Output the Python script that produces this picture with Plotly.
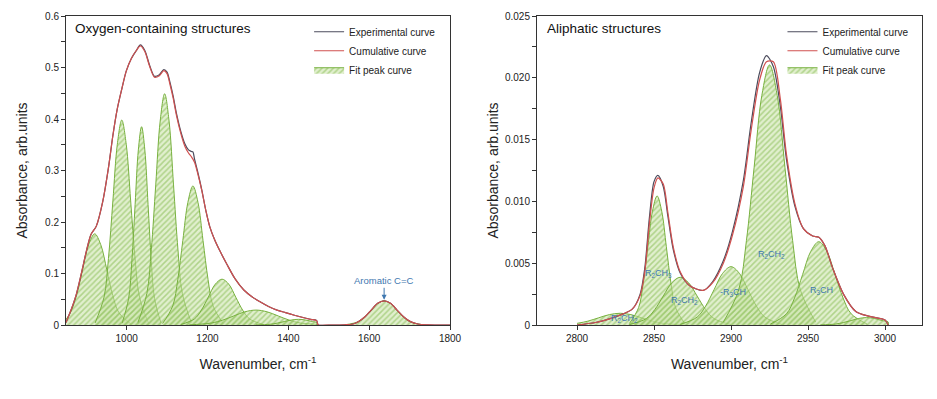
import plotly.graph_objects as go

# ---------------- Left panel: oxygen-containing structures ----------------
ox_x = [850, 862, 875, 888, 900, 912, 925, 941, 955, 966, 977, 988, 999, 1012, 1024, 1034,
        1045, 1057, 1069, 1081, 1092, 1100, 1107, 1115, 1123, 1134, 1144, 1153, 1160, 1164,
        1168, 1175, 1186, 1196, 1206, 1218, 1230, 1248, 1268, 1290, 1310, 1330, 1351, 1372,
        1393, 1415, 1434, 1455, 1470, 1474, 1500, 1540, 1560, 1573, 1589, 1605, 1621, 1637,
        1653, 1669, 1685, 1701, 1720, 1745, 1775, 1800]
ox_exp_y = [0.005, 0.028, 0.058, 0.100, 0.142, 0.176, 0.192, 0.240, 0.305, 0.368, 0.420, 0.458,
            0.493, 0.518, 0.533, 0.544, 0.533, 0.504, 0.483, 0.486, 0.496, 0.491, 0.472, 0.445,
            0.412, 0.376, 0.352, 0.340, 0.337, 0.336, 0.322, 0.300, 0.262, 0.222, 0.190, 0.165,
            0.145, 0.118, 0.090, 0.068, 0.055, 0.045, 0.036, 0.029, 0.024, 0.019, 0.015, 0.011,
            0.009, 0.0, 0.0, 0.0005, 0.002, 0.0065, 0.0155, 0.029, 0.042, 0.047, 0.042, 0.029,
            0.016, 0.007, 0.002, 0.0004, 0.0, 0.0]
ox_cum_y = [0.005, 0.028, 0.058, 0.100, 0.142, 0.176, 0.192, 0.240, 0.305, 0.368, 0.420, 0.458,
            0.493, 0.518, 0.533, 0.542, 0.531, 0.502, 0.481, 0.484, 0.494, 0.488, 0.468, 0.441,
            0.408, 0.372, 0.347, 0.334, 0.327, 0.322, 0.316, 0.297, 0.261, 0.222, 0.190, 0.165,
            0.145, 0.118, 0.090, 0.068, 0.055, 0.045, 0.036, 0.029, 0.024, 0.019, 0.015, 0.011,
            0.0085, 0.0, 0.0, 0.0005, 0.002, 0.0065, 0.0155, 0.029, 0.042, 0.047, 0.042, 0.029,
            0.016, 0.007, 0.002, 0.0004, 0.0, 0.0]

ox_p1_x = [850, 861, 876, 891, 906, 921, 936, 951, 966, 981, 1011]
ox_p1_y = [0.011, 0.024, 0.057, 0.107, 0.156, 0.177, 0.156, 0.107, 0.057, 0.024, 0.002]
ox_p2_x = [922, 944, 955, 966, 977, 988, 999, 1010, 1021, 1032, 1054]
ox_p2_y = [0.004, 0.054, 0.129, 0.241, 0.351, 0.398, 0.351, 0.241, 0.129, 0.054, 0.004]
ox_p3_x = [989, 1005, 1013, 1021, 1029, 1037, 1045, 1053, 1061, 1069, 1085]
ox_p3_y = [0.004, 0.052, 0.125, 0.234, 0.340, 0.385, 0.340, 0.234, 0.125, 0.052, 0.004]
ox_p4_x = [1028, 1050, 1061, 1072, 1083, 1094, 1105, 1116, 1127, 1138, 1160]
ox_p4_y = [0.005, 0.061, 0.146, 0.272, 0.396, 0.449, 0.396, 0.272, 0.146, 0.061, 0.005]
ox_p5_x = [1089, 1114, 1126.5, 1139, 1151.5, 1164, 1176.5, 1189, 1201.5, 1214, 1239]
ox_p5_y = [0.003, 0.037, 0.088, 0.164, 0.238, 0.270, 0.238, 0.164, 0.088, 0.037, 0.003]
ox_p6_x = [1134, 1168, 1185, 1202, 1219, 1236, 1253, 1270, 1287, 1304, 1338]
ox_p6_y = [0.001, 0.012, 0.029, 0.054, 0.079, 0.089, 0.079, 0.054, 0.029, 0.012, 0.001]
ox_p7_x = [1155, 1210, 1237.5, 1265, 1292.5, 1320, 1347.5, 1375, 1402.5, 1430, 1470, 1470.1]
ox_p7_y = [0.0003, 0.0039, 0.0094, 0.0176, 0.0256, 0.029, 0.0256, 0.0176, 0.0094, 0.0039, 0.0007, 0.0]
ox_p8_x = [1320, 1355, 1372.5, 1390, 1407.5, 1425, 1442.5, 1460, 1470, 1470.1]
ox_p8_y = [0.0001, 0.0015, 0.0036, 0.0067, 0.0097, 0.011, 0.0097, 0.0067, 0.0048, 0.0]
ox_p9_x = [1541, 1573, 1589, 1605, 1621, 1637, 1653, 1669, 1685, 1701, 1733]
ox_p9_y = [0.0005, 0.0064, 0.0153, 0.0285, 0.0415, 0.047, 0.0415, 0.0285, 0.0153, 0.0064, 0.0005]

# ---------------- Right panel: aliphatic structures ----------------
al_x = [2800, 2812, 2821, 2830, 2836, 2841, 2844, 2847, 2850, 2852.5, 2856, 2859, 2862.5, 2867,
        2873, 2882, 2888, 2895, 2901, 2908, 2913, 2918.5, 2923, 2927.5, 2932, 2936, 2941.5,
        2947, 2953, 2957, 2961, 2966, 2973, 2981, 2990, 3000, 3002]
al_exp_y = [0.0, 0.0002, 0.0005, 0.0009, 0.0013, 0.0025, 0.0046, 0.0087, 0.0116, 0.0121, 0.0112,
            0.0088, 0.0061, 0.0042, 0.0032, 0.0028, 0.0035, 0.0052, 0.0076, 0.0117, 0.0163,
            0.0204, 0.0218, 0.0209, 0.0177, 0.0134, 0.0096, 0.0078, 0.0072, 0.0071, 0.0064,
            0.0046, 0.0025, 0.0011, 0.0007, 0.0004, 0.0]
al_cum_y = [0.0, 0.0002, 0.0005, 0.0009, 0.0013, 0.0024, 0.0043, 0.0082, 0.0111, 0.0119, 0.0114,
            0.0091, 0.0063, 0.0043, 0.0032, 0.0028, 0.0034, 0.0050, 0.0073, 0.0112, 0.0157,
            0.0198, 0.0213, 0.0213, 0.0183, 0.0138, 0.0098, 0.0078, 0.0072, 0.0071, 0.0064,
            0.0046, 0.0025, 0.0011, 0.0007, 0.0004, 0.0]

al_q1_x = [2800, 2807, 2814, 2821, 2828, 2835, 2842, 2849, 2856, 2870]
al_q1_y = [0.00013, 0.00031, 0.00058, 0.00084, 0.00095, 0.00084, 0.00058, 0.00031, 0.00013, 0.00001]
al_q2_x = [2834, 2840, 2843, 2846, 2849, 2852, 2855, 2858, 2861, 2864, 2870]
al_q2_y = [0.00012, 0.00141, 0.00339, 0.00633, 0.00921, 0.01044, 0.00921, 0.00633, 0.00339, 0.00141, 0.00012]
al_q3_x = [2834, 2845, 2850.5, 2856, 2861.5, 2867, 2872.5, 2878, 2883.5, 2889, 2900]
al_q3_y = [0.00004, 0.00052, 0.00125, 0.00234, 0.00341, 0.00386, 0.00341, 0.00234, 0.00125, 0.00052, 0.00004]
al_q4_x = [2867, 2878, 2883.5, 2889, 2894.5, 2900, 2905.5, 2911, 2916.5, 2922, 2933]
al_q4_y = [0.00005, 0.00064, 0.00153, 0.00286, 0.00417, 0.00472, 0.00417, 0.00286, 0.00153, 0.00064, 0.00005]
al_q5_x = [2895, 2905, 2910, 2915, 2920, 2925, 2930, 2935, 2940, 2945, 2955]
al_q5_y = [0.00023, 0.00285, 0.00683, 0.01276, 0.01857, 0.02104, 0.01857, 0.01276, 0.00683, 0.00285, 0.00023]
al_q6_x = [2925.5, 2936, 2941.25, 2946.5, 2951.75, 2957, 2962.25, 2967.5, 2972.75, 2978, 2988.5]
al_q6_y = [0.00007, 0.00091, 0.00219, 0.00409, 0.00595, 0.00674, 0.00595, 0.00409, 0.00219, 0.00091, 0.00007]
al_q7_x = [2958, 2968, 2973, 2978, 2983, 2988, 2993, 2998, 3002, 3002.1]
al_q7_y = [0.00001, 0.00008, 0.0002, 0.00036, 0.00053, 0.0006, 0.00053, 0.00036, 0.00025, 0.0]

al_label_text = ["R<sub>2</sub>CH<sub>2</sub>", "R<sub>2</sub>CH<sub>3</sub>", "R<sub>2</sub>CH<sub>2</sub>",
                 "-R<sub>3</sub>CH", "R<sub>2</sub>CH<sub>2</sub>", "R<sub>3</sub>CH"]
al_label_x = [2831, 2853, 2870, 2901, 2926, 2959]
al_label_y = [0.0005, 0.0042, 0.0020, 0.0026, 0.0057, 0.0028]

ox_x_ticks = [1000, 1200, 1400, 1600, 1800]
al_x_ticks = [2800, 2850, 2900, 2950, 3000]
al_y_ticks = [0, 0.005, 0.010, 0.015, 0.020, 0.025]
al_y_ticktext = ["0", "0.005", "0.010", "0.015", "0.020", "0.025"]

# ---------------- styles ----------------
FONT = "Liberation Sans, Arial, sans-serif"
EXP_COLOR = "#4b4b5c"
CUM_COLOR = "#d0504f"
PEAK_LINE = "#78b13f"
PATTERN = dict(shape="/", fgcolor="#7fb848", bgcolor="rgba(200,226,165,0.55)", size=4, solidity=0.38)
LABEL_BLUE = "#3f78b0"

fig = go.Figure()

ox_peaks = [(ox_p1_x, ox_p1_y), (ox_p2_x, ox_p2_y), (ox_p3_x, ox_p3_y), (ox_p4_x, ox_p4_y),
            (ox_p5_x, ox_p5_y), (ox_p6_x, ox_p6_y), (ox_p7_x, ox_p7_y), (ox_p8_x, ox_p8_y),
            (ox_p9_x, ox_p9_y)]
al_peaks = [(al_q1_x, al_q1_y), (al_q2_x, al_q2_y), (al_q3_x, al_q3_y), (al_q4_x, al_q4_y),
            (al_q5_x, al_q5_y), (al_q6_x, al_q6_y), (al_q7_x, al_q7_y)]


def add_panel(peaks, x, exp_y, cum_y, xa, ya, legend):
    for i, (px, py) in enumerate(peaks):
        fig.add_trace(go.Scatter(
            x=px, y=py, mode="lines", line=dict(color=PEAK_LINE, width=1, shape="spline", smoothing=1),
            fill="tozeroy", fillcolor=PATTERN["bgcolor"], fillpattern=PATTERN,
            name="Fit peak curve", legendgroup="fit" + legend, showlegend=(i == 0),
            legend=legend, legendrank=3, xaxis=xa, yaxis=ya, hoverinfo="skip"))
    fig.add_trace(go.Scatter(
        x=x, y=exp_y, mode="lines", line=dict(color=EXP_COLOR, width=1.2, shape="spline", smoothing=0.8),
        name="Experimental curve", legend=legend, legendrank=1, xaxis=xa, yaxis=ya))
    fig.add_trace(go.Scatter(
        x=x, y=cum_y, mode="lines", line=dict(color=CUM_COLOR, width=1.2, shape="spline", smoothing=0.8),
        name="Cumulative curve", legend=legend, legendrank=2, xaxis=xa, yaxis=ya))


add_panel(ox_peaks, ox_x, ox_exp_y, ox_cum_y, "x", "y", "legend")
add_panel(al_peaks, al_x, al_exp_y, al_cum_y, "x2", "y2", "legend2")

axis_common = dict(showline=True, linecolor="#333333", linewidth=1, mirror=True, showgrid=False,
                   zeroline=False, ticks="outside", ticklen=4, tickcolor="#333333",
                   tickfont=dict(size=10, color="#222222", family=FONT))

# the page body has an 8 px margin, so the figure is sized to end at the window edge
fig.update_layout(
    width=929, height=391,
    margin=dict(l=58, r=15, t=8, b=74, autoexpand=False),
    paper_bgcolor="white", plot_bgcolor="white",
    font=dict(family=FONT, color="#222222"),
    xaxis=dict(domain=[0, 0.4486], range=[850, 1800], tickvals=ox_x_ticks,
               title=dict(text="Wavenumber, cm<sup>-1</sup>", font=dict(size=14), standoff=16),
               **axis_common),
    yaxis=dict(range=[0, 0.6], tick0=0, dtick=0.1,
               minor=dict(dtick=0.05, ticks="outside", ticklen=4, tickcolor="#333333"),
               title=dict(text="Absorbance, arb.units", font=dict(size=14), standoff=14),
               **axis_common),
    xaxis2=dict(domain=[0.5502, 1], range=[2774, 3024], tickvals=al_x_ticks, anchor="y2",
                title=dict(text="Wavenumber, cm<sup>-1</sup>", font=dict(size=14), standoff=16),
                **axis_common),
    yaxis2=dict(range=[0, 0.025], tickvals=al_y_ticks, ticktext=al_y_ticktext, anchor="x2",
                minor=dict(dtick=0.0025, ticks="outside", ticklen=4, tickcolor="#333333"),
                title=dict(text="Absorbance, arb.units", font=dict(size=14), standoff=3),
                **axis_common),
    legend=dict(x=0.284, y=0.996, xanchor="left", yanchor="top", bgcolor="rgba(0,0,0,0)",
                font=dict(size=10, family=FONT), itemwidth=30, tracegroupgap=0),
    legend2=dict(x=0.837, y=0.996, xanchor="left", yanchor="top", bgcolor="rgba(0,0,0,0)",
                 font=dict(size=10, family=FONT), itemwidth=30, tracegroupgap=0),
    showlegend=True,
)

annotations = [
    dict(text="Oxygen-containing structures", xref="x domain", yref="y domain", x=0.018, y=0.958,
         xanchor="left", yanchor="middle", showarrow=False, font=dict(size=13.5, color="#111111")),
    dict(text="Aliphatic structures", xref="x2 domain", yref="y2 domain", x=0.021, y=0.958,
         xanchor="left", yanchor="middle", showarrow=False, font=dict(size=13.5, color="#111111")),
    dict(text="Aromatic C=C", xref="x", yref="y", x=1637, y=0.049, ax=0, ay=-19,
         showarrow=True, arrowhead=2, arrowsize=1, arrowwidth=1, arrowcolor=LABEL_BLUE,
         font=dict(size=9.5, color=LABEL_BLUE)),
]
for t, lx, ly in zip(al_label_text, al_label_x, al_label_y):
    annotations.append(dict(text=t, xref="x2", yref="y2", x=lx, y=ly, showarrow=False,
                            font=dict(size=9, color=LABEL_BLUE)))
fig.update_layout(annotations=annotations)

fig.write_html("out.html")
